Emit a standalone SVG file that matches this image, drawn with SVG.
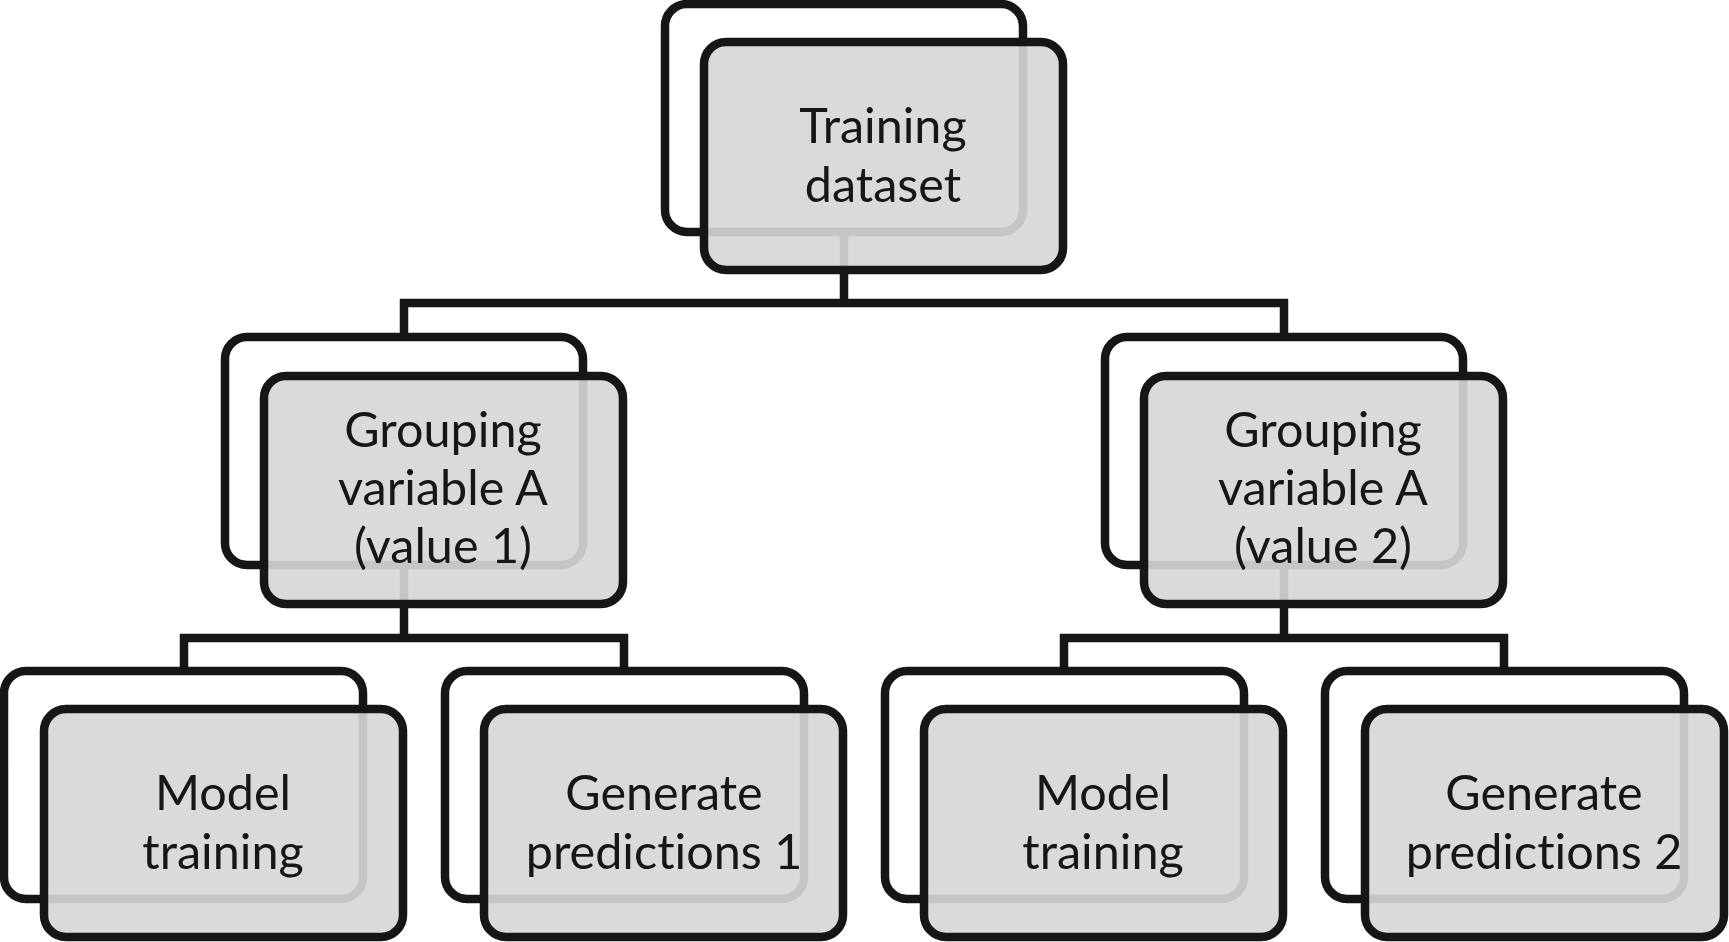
<svg xmlns="http://www.w3.org/2000/svg" width="1729" height="942" viewBox="0 0 1729 942">
<style>
.back{fill:#ffffff;stroke:#161616;stroke-width:8.5}
.front{fill:#d6d6d6;fill-opacity:0.91;stroke:#161616;stroke-width:8.5}
.conn{fill:none;stroke:#161616;stroke-width:8.5;stroke-linejoin:miter;stroke-linecap:butt}
.lbl{font-family:Lato,"Open Sans","Liberation Sans",sans-serif;font-size:48.5px;fill:#161616;text-anchor:middle;font-variant-ligatures:none;font-feature-settings:"liga" 0,"dlig" 0}
</style>
<rect width="1729" height="942" fill="#ffffff"/>
<g id="connectors">
<path class="conn" d="M844 232 V303 M404 337 V303 H1284 V337"/>
<path class="conn" d="M404 566 V638 M184 671 V638 H624 V671"/>
<path class="conn" d="M1284 566 V638 M1064 671 V638 H1504 V671"/>
</g>
<g id="training-dataset">
<rect class="back" x="665" y="4" width="358" height="228" rx="22"/>
<rect class="front" x="704" y="42" width="359" height="228" rx="22"/>
<text class="lbl" x="883" y="143">Training</text>
<text class="lbl" x="883" y="202">dataset</text>
</g>
<g id="grouping-value-1">
<rect class="back" x="225" y="337" width="358" height="228" rx="22"/>
<rect class="front" x="264" y="376" width="359" height="228" rx="22"/>
<text class="lbl" x="443" y="447">Grouping</text>
<text class="lbl" x="443" y="505">variable A</text>
<text class="lbl" x="443" y="563">(value 1)</text>
</g>
<g id="grouping-value-2">
<rect class="back" x="1105" y="337" width="358" height="228" rx="22"/>
<rect class="front" x="1144" y="376" width="359" height="228" rx="22"/>
<text class="lbl" x="1323" y="447">Grouping</text>
<text class="lbl" x="1323" y="505">variable A</text>
<text class="lbl" x="1323" y="563">(value 2)</text>
</g>
<g id="model-training-1">
<rect class="back" x="4" y="671" width="359" height="228" rx="22"/>
<rect class="front" x="44" y="709" width="359" height="228" rx="22"/>
<text class="lbl" x="223" y="810">Model</text>
<text class="lbl" x="223" y="869">training</text>
</g>
<g id="generate-predictions-1">
<rect class="back" x="445" y="671" width="359" height="228" rx="22"/>
<rect class="front" x="484" y="709" width="359" height="228" rx="22"/>
<text class="lbl" x="664" y="810">Generate</text>
<text class="lbl" x="664" y="869">predictions 1</text>
</g>
<g id="model-training-2">
<rect class="back" x="885" y="671" width="359" height="228" rx="22"/>
<rect class="front" x="924" y="709" width="359" height="228" rx="22"/>
<text class="lbl" x="1103" y="810">Model</text>
<text class="lbl" x="1103" y="869">training</text>
</g>
<g id="generate-predictions-2">
<rect class="back" x="1325" y="671" width="359" height="228" rx="22"/>
<rect class="front" x="1365" y="709" width="359" height="228" rx="22"/>
<text class="lbl" x="1544" y="810">Generate</text>
<text class="lbl" x="1544" y="869">predictions 2</text>
</g>
</svg>
